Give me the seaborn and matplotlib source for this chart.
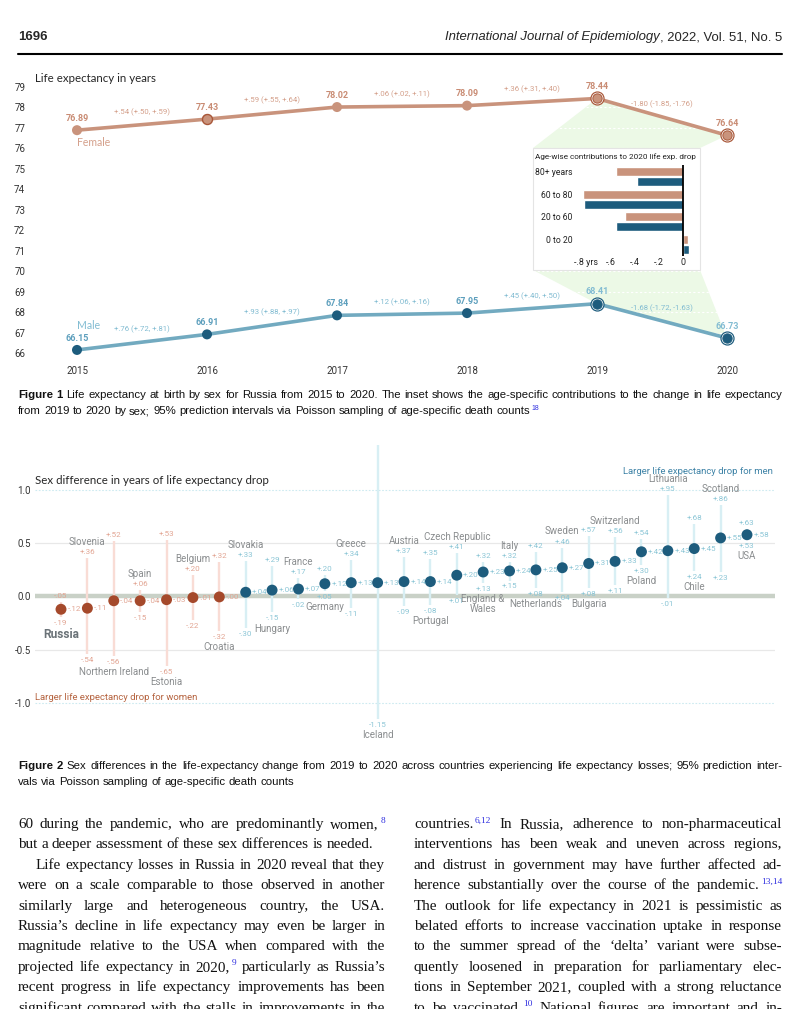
import matplotlib
matplotlib.use("Agg")
import numpy as np
import pandas as pd
import matplotlib.pyplot as plt
import seaborn as sns
from matplotlib import font_manager
from matplotlib.patches import Polygon, Rectangle
from matplotlib.lines import Line2D

# Figure 1: life expectancy at birth, Russia
years = [2015, 2016, 2017, 2018, 2019, 2020]
female_le = [76.89, 77.43, 78.02, 78.09, 78.44, 76.64]
male_le = [66.15, 66.91, 67.84, 67.95, 68.41, 66.73]
female_change = ["+.54 (+.50, +.59)", "+.59 (+.55, +.64)", "+.06 (+.02, +.11)",
                 "+.36 (+.31, +.40)", "-1.80 (-1.85, -1.76)"]
male_change = ["+.76 (+.72, +.81)", "+.93 (+.88, +.97)", "+.12 (+.06, +.16)",
               "+.45 (+.40, +.50)", "-1.68 (-1.72, -1.63)"]

# inset: age-wise contributions to the 2020 drop
age_groups = ["80+ years", "60 to 80", "20 to 60", "0 to 20"]
female_contrib = [-0.55, -0.83, -0.48, 0.04]
male_contrib = [-0.38, -0.82, -0.55, 0.05]
inset_ticks = [-0.8, -0.6, -0.4, -0.2, 0]
inset_ticklabels = ["-.8 yrs", "-.6", "-.4", "-.2", "0"]

# Figure 2: sex difference in life expectancy drop
countries = ["Russia", "Slovenia", "Northern Ireland", "Spain", "Estonia", "Belgium", "Croatia",
             "Slovakia", "Hungary", "France", "Germany", "Greece", "Iceland", "Austria",
             "Portugal", "Czech Republic", "England &\nWales", "Italy", "Netherlands", "Sweden",
             "Bulgaria", "Switzerland", "Poland", "Lithuania", "Chile", "Scotland", "USA"]
sex_diff = [-0.12, -0.11, -0.04, -0.04, -0.03, -0.01, -0.004, 0.04, 0.06, 0.07, 0.12, 0.13,
            0.13, 0.14, 0.14, 0.20, 0.23, 0.24, 0.25, 0.27, 0.31, 0.33, 0.42, 0.43, 0.45,
            0.55, 0.58]
diff_lo = [-0.19, -0.54, -0.56, -0.15, -0.65, -0.22, -0.32, -0.30, -0.15, -0.02, 0.05, -0.11,
           -1.15, -0.09, -0.08, 0.01, 0.13, 0.15, 0.08, 0.04, 0.08, 0.11, 0.30, -0.01, 0.24,
           0.23, 0.53]
diff_hi = [-0.05, 0.36, 0.52, 0.06, 0.53, 0.20, 0.32, 0.33, 0.29, 0.17, 0.20, 0.34, 1.45,
           0.37, 0.35, 0.41, 0.32, 0.32, 0.42, 0.46, 0.57, 0.56, 0.54, 0.95, 0.68, 0.86, 0.63]

# page text
caption1 = ["*Figure *1 Life expectancy at birth by sex for Russia from 2015 to 2020. The inset shows "
            "the age-specific contributions to the change in life expectancy",
            "from 2019 to 2020 by sex; 95% prediction intervals via Poisson sampling of "
            "age-specific death counts^18"]
caption2 = ["*Figure *2 Sex differences in the life-expectancy change from 2019 to 2020 across "
            "countries experiencing life expectancy losses; 95% prediction inter-",
            "vals via Poisson sampling of age-specific death counts"]
left_col = ["60 during the pandemic, who are predominantly women,^8",
            "but a deeper assessment of these sex differences is needed.",
            "Life expectancy losses in Russia in 2020 reveal that they",
            "were on a scale comparable to those observed in another",
            "similarly large and heterogeneous country, the USA.",
            "Russia’s decline in life expectancy may even be larger in",
            "magnitude relative to the USA when compared with the",
            "projected life expectancy in 2020,^9 particularly as Russia’s",
            "recent progress in life expectancy improvements has been",
            "significant compared with the stalls in improvements in the"]
right_col = ["countries.^6,12 In Russia, adherence to non-pharmaceutical",
             "interventions has been weak and uneven across regions,",
             "and distrust in government may have further affected ad-",
             "herence substantially over the course of the pandemic.^13,14",
             "The outlook for life expectancy in 2021 is pessimistic as",
             "belated efforts to increase vaccination uptake in response",
             "to the summer spread of the ‘delta’ variant were subse-",
             "quently loosened in preparation for parliamentary elec-",
             "tions in September 2021, coupled with a strong reluctance",
             "to be vaccinated.^10 National figures are important and in-"]

sns.set_style("white")
plt.rcParams["font.family"] = ["Roboto", "DejaVu Sans"]

names = {f.name for f in font_manager.fontManager.ttflist}
COND = "Liberation Sans Narrow" if "Liberation Sans Narrow" in names else "Liberation Sans"
SERIF = "Liberation Serif"
TITLE = "Lato"

F_LINE = "#c9937c"
F_DARK = "#a9583a"
F_TXT = "#d4a08b"
M_LINE = "#72aac0"
M_DARK = "#1d5c7d"
M_TXT = "#82bcd2"
W_PT = "#a5492b"
W_IV = "#f9dcd5"
W_TXT = "#e2a593"
M_IV = "#d8eff4"
M_VTXT = "#8cc6d6"
GREY = "#8a8d8f"

W, H = 800, 1009
fig = plt.figure(figsize=(W / 100, H / 100), dpi=100)
fig.patch.set_facecolor("white")
renderer = fig.canvas.get_renderer()


def fx(px):
    return px / W


def fy(py):
    return 1 - py / H


def axes_px(left, top, right, bottom):
    return fig.add_axes([left / W, 1 - bottom / H, (right - left) / W, (bottom - top) / H])


def measure(s, **kw):
    t = fig.text(0, 0, s, **kw)
    w = t.get_window_extent(renderer).width
    t.remove()
    return w


def fit(s, width, **kw):
    return 10 * width / measure(s, fontsize=10, **kw)


def draw_line(line, x0, x1, y, size, family, justify=True, indent=0, color="#111111"):
    items = []
    for tok in line.split():
        bold = tok.startswith("*")
        base, _, sup = tok.lstrip("*").partition("^")
        items.append((base, sup, bold))
    widths = []
    for base, sup, bold in items:
        w = measure(base, fontsize=size, family=family, weight="bold" if bold else "normal")
        if sup:
            w += measure(sup, fontsize=size * 0.62, family=family) + 1.5
        widths.append(w)
    x = x0 + indent
    if justify and len(items) > 1:
        gap = (x1 - x - sum(widths)) / (len(items) - 1)
    else:
        gap = measure("a a", fontsize=size, family=family) - measure("aa", fontsize=size, family=family)
    for (base, sup, bold), w in zip(items, widths):
        fig.text(fx(x), fy(y), base, fontsize=size, family=family, color=color,
                 weight="bold" if bold else "normal", va="baseline", ha="left")
        if sup:
            wb = measure(base, fontsize=size, family=family, weight="bold" if bold else "normal")
            fig.text(fx(x + wb + 1.5), fy(y - size * 0.5), sup, fontsize=size * 0.62,
                     family=family, color="#2f2fe0", va="baseline", ha="left")
        x += w + gap


# ---------- header ----------
hdr_size = fit("International Journal of Epidemiology, 2022, Vol. 51, No. 5", 338, family=COND)
fig.text(fx(18), fy(40), "1696", fontsize=hdr_size, family=COND, weight="bold", va="baseline")
tail = ", 2022, Vol. 51, No. 5"
fig.text(fx(782), fy(40), tail, fontsize=hdr_size, family=COND, ha="right", va="baseline")
wt = measure(tail, fontsize=hdr_size, family=COND)
fig.text(fx(782 - wt), fy(40), "International Journal of Epidemiology", fontsize=hdr_size,
         family=COND, style="italic", ha="right", va="baseline")
fig.add_artist(Line2D([fx(18), fx(782)], [fy(53.5), fy(53.5)], lw=1.5, color="black"))

# ---------- figure 1 ----------
ax1 = axes_px(35, 80, 770, 360)
ax1.set_facecolor("none")
ax1.set_xlim(2015 - 42 / 130, 2020 + 43 / 130)
ax1.set_ylim(66 - 7 / 20.46, 79 + 7 / 20.46)

df1 = pd.DataFrame({"year": years * 2, "le": female_le + male_le,
                    "sex": ["Female"] * len(years) + ["Male"] * len(years)})

# zoom wedge linking the 2019-2020 drop to the inset box
inv = ax1.transData.inverted()
def to_data(px, py):
    return inv.transform((px, H - py))

wedge_top = [(2019, female_le[4]), (2020, female_le[5]), to_data(700, 148), to_data(533, 148)]
wedge_bot = [to_data(533, 270), to_data(700, 270), (2020, male_le[5]), (2019, male_le[4])]
for pts in (wedge_top, wedge_bot):
    ax1.add_patch(Polygon(pts, closed=True, facecolor="#ecf9e6", edgecolor="none", zorder=1))
ax1.hlines(range(66, 80), *ax1.get_xlim(), color="white", lw=0.8, ls=(0, (2, 2)), zorder=1.5)

sns.lineplot(data=df1, x="year", y="le", hue="sex", palette={"Female": F_LINE, "Male": M_LINE},
             lw=2.6, legend=False, ax=ax1, zorder=3)
sns.scatterplot(data=df1, x="year", y="le", hue="sex", palette={"Female": F_LINE, "Male": M_DARK},
                s=52, linewidth=0, legend=False, ax=ax1, zorder=4)
ax1.scatter([2016], [female_le[1]], s=52, facecolor=F_LINE, edgecolor=F_DARK, lw=1, zorder=5)
for vals, ring, fill in ((female_le, F_DARK, F_LINE), (male_le, M_DARK, M_DARK)):
    ax1.scatter(years[4:], vals[4:], s=105, facecolor=ring, lw=0, zorder=5)
    ax1.scatter(years[4:], vals[4:], s=72, facecolor="white", lw=0, zorder=5)
    ax1.scatter(years[4:], vals[4:], s=45, facecolor=fill, edgecolor=ring, lw=0.7, zorder=6)

for i, (y, v) in enumerate(zip(years, female_le)):
    ax1.annotate(f"{v:.2f}", (y, v), xytext=(0, 8.5), textcoords="offset points", ha="center",
                 va="center", fontsize=6.5, weight="bold", color="#c98c74")
for i, (y, v) in enumerate(zip(years, male_le)):
    ax1.annotate(f"{v:.2f}", (y, v), xytext=(0, 8.5), textcoords="offset points", ha="center",
                 va="center", fontsize=6.5, weight="bold", color="#5d9fbd" if i < 4 else M_TXT)
for i in range(5):
    xm = (years[i] + years[i + 1]) / 2
    ax1.annotate(female_change[i], (xm, (female_le[i] + female_le[i + 1]) / 2), xytext=(0, 9),
                 textcoords="offset points", ha="center", va="center", fontsize=5.6, color=F_TXT)
    ax1.annotate(male_change[i], (xm, (male_le[i] + male_le[i + 1]) / 2), xytext=(0, 9),
                 textcoords="offset points", ha="center", va="center", fontsize=5.6, color=M_TXT)
ax1.text(2015, female_le[0] - 0.62, "Female", fontsize=7.6, family=TITLE,
         color=F_TXT, ha="left", va="center")
ax1.text(2015, male_le[0] + 1.2, "Male", fontsize=7.6, family=TITLE, color=M_TXT,
         ha="left", va="center")

ax1.set_yticks(range(66, 80))
ax1.set_xticks(years)
ax1.set_xticklabels([str(y) for y in years])
ax1.tick_params(axis="y", length=0, pad=7, labelsize=7, labelcolor="#333333")
ax1.tick_params(axis="x", length=0, pad=4, labelsize=7, labelcolor="#333333")
ax1.set_xlabel("")
ax1.set_ylabel("")
sns.despine(ax=ax1, left=True, bottom=True)
fig.text(fx(35), fy(78), "Life expectancy in years", fontsize=8.3, family=TITLE, va="center")

# inset box
fig.add_artist(Rectangle((fx(533), fy(270)), 167 / W, 122 / H, transform=fig.transFigure,
                         facecolor="white", edgecolor="#e4e4e4", lw=0.8, zorder=1))
fig.text(fx(535), fy(157), "Age-wise contributions to 2020 life exp. drop", fontsize=5.9,
         va="center", color="#222222", zorder=3)
ax_in = axes_px(575, 165, 697, 256)
ax_in.set_zorder(2)
ax_in.set_facecolor("none")
df_in = pd.DataFrame({"age": age_groups * 2, "contrib": female_contrib + male_contrib,
                      "sex": ["Female"] * 4 + ["Male"] * 4})
sns.barplot(data=df_in, y="age", x="contrib", hue="sex", order=age_groups,
            hue_order=["Female", "Male"], palette={"Female": F_LINE, "Male": M_DARK},
            orient="h", width=0.9, gap=0.12, saturation=1, errorbar=None, legend=False, ax=ax_in)
ax_in.axvline(0, color="black", lw=1.3, zorder=4)
ax_in.set_xlim((575 - 683) / 121, (697 - 683) / 121)
ax_in.set_ylim(3.5, -0.5)
ax_in.set_yticks([i - 0.225 for i in range(4)])
ax_in.set_yticklabels(age_groups)
ax_in.set_xticks(inset_ticks)
ax_in.set_xticklabels(inset_ticklabels)
ax_in.tick_params(axis="y", length=0, pad=2, labelsize=6.2, labelcolor="#222222")
ax_in.tick_params(axis="x", length=0, pad=1.5, labelsize=6.4, labelcolor="#222222")
ax_in.set_xlabel("")
ax_in.set_ylabel("")
sns.despine(ax=ax_in, left=True, bottom=True)

# caption 1
cap_size = fit(caption1[1].split("^")[0], 511, family=COND)
draw_line(caption1[0], 18, 782, 398, cap_size, COND, justify=True)
draw_line(caption1[1], 18, 782, 414, cap_size, COND, justify=False)

# ---------- figure 2 ----------
ax2 = axes_px(35, 445, 775, 745)
ax2.set_facecolor("none")
ax2.set_xlim(-26 / 26.38, 26 + 28 / 26.38)
ax2.set_ylim(-1 - 42 / 106.5, 1 + 45 / 106.5)
ax2.axhline(0.5, color="#e8e8e8", lw=0.9, zorder=0.5)
ax2.axhline(-0.5, color="#e8e8e8", lw=0.9, zorder=0.5)
ax2.axhline(1.0, color="#cdeaf0", lw=0.8, ls=(0, (1.5, 1.5)), zorder=0.5)
ax2.axhline(-1.0, color="#cdeaf0", lw=0.8, ls=(0, (1.5, 1.5)), zorder=0.5)
ax2.axhline(0, color="#c9d1c7", lw=3.2, zorder=1)

pos = np.arange(len(countries))
women = np.array(sex_diff) < 0
ax2.vlines(pos, diff_lo, diff_hi, colors=[W_IV if w else M_IV for w in women], lw=1.7, zorder=1.5)
df2 = pd.DataFrame({"pos": pos, "diff": sex_diff,
                    "group": ["women" if w else "men" for w in women]})
sns.scatterplot(data=df2, x="pos", y="diff", hue="group", palette={"women": W_PT, "men": M_DARK},
                s=62, linewidth=0, legend=False, ax=ax2, zorder=3)


def fmt(v):
    s = f"{v:+.2f}"
    return s.replace("0.", ".", 1) if abs(v) < 1 else s


ytop = ax2.get_ylim()[1]
for i, c in enumerate(countries):
    tc = W_TXT if women[i] else M_VTXT
    ax2.annotate(fmt(sex_diff[i]), (i, sex_diff[i]), xytext=(4.6, 0), textcoords="offset points",
                 ha="left", va="center", fontsize=5.8, color=tc, zorder=4)
    if diff_hi[i] < ytop:
        ax2.annotate(fmt(diff_hi[i]), (i, diff_hi[i]), xytext=(0, 4.3), textcoords="offset points",
                     ha="center", va="center", fontsize=5.8, color=tc)
    ax2.annotate(fmt(diff_lo[i]), (i, diff_lo[i]), xytext=(0, -4.3), textcoords="offset points",
                 ha="center", va="center", fontsize=5.8, color=tc)
    if c == "Russia":
        ax2.annotate(c, (i, diff_lo[i]), xytext=(0, -8), textcoords="offset points", ha="center",
                     va="top", fontsize=8.6, weight="bold", color="#6b7378")
    elif i % 2 == 1:
        ax2.annotate(c, (i, diff_hi[i]), xytext=(0, 8), textcoords="offset points", ha="center",
                     va="bottom", fontsize=7, color=GREY, linespacing=1.0)
    else:
        ax2.annotate(c, (i, diff_lo[i]), xytext=(0, -8), textcoords="offset points", ha="center",
                     va="top", fontsize=7, color=GREY, linespacing=1.05)

ax2.set_yticks([-1.0, -0.5, 0.0, 0.5, 1.0])
ax2.set_yticklabels(["-1.0", "-0.5", "0.0", "0.5", "1.0"])
ax2.set_xticks([])
ax2.tick_params(axis="y", length=0, pad=3, labelsize=7, labelcolor="#333333")
ax2.set_xlabel("")
ax2.set_ylabel("")
sns.despine(ax=ax2, left=True, bottom=True)
fig.text(fx(35), fy(481), "Sex difference in years of life expectancy drop", fontsize=8.3,
         family=TITLE, va="center")
fig.text(fx(773), fy(471), "Larger life expectancy drop for men", fontsize=6.8,
         color="#3d82a6", ha="right", va="center")
fig.text(fx(35), fy(697), "Larger life expectancy drop for women", fontsize=6.8,
         color="#b5633f", ha="left", va="center")

# caption 2
draw_line(caption2[0], 18, 782, 769, cap_size, COND, justify=True)
draw_line(caption2[1], 18, 782, 785, cap_size, COND, justify=False)

# ---------- body text ----------
body_size = fit(left_col[1], 355, family=SERIF)
for k, line in enumerate(left_col):
    yb = 828 + k * 20.4
    draw_line(line, 18, 385, yb, body_size, SERIF, justify=(k != 1), indent=18 if k == 2 else 0)
for k, line in enumerate(right_col):
    yb = 828 + k * 20.4
    draw_line(line, 414, 782, yb, body_size, SERIF, justify=True)

fig.savefig("out.png", dpi=100, facecolor="white")
